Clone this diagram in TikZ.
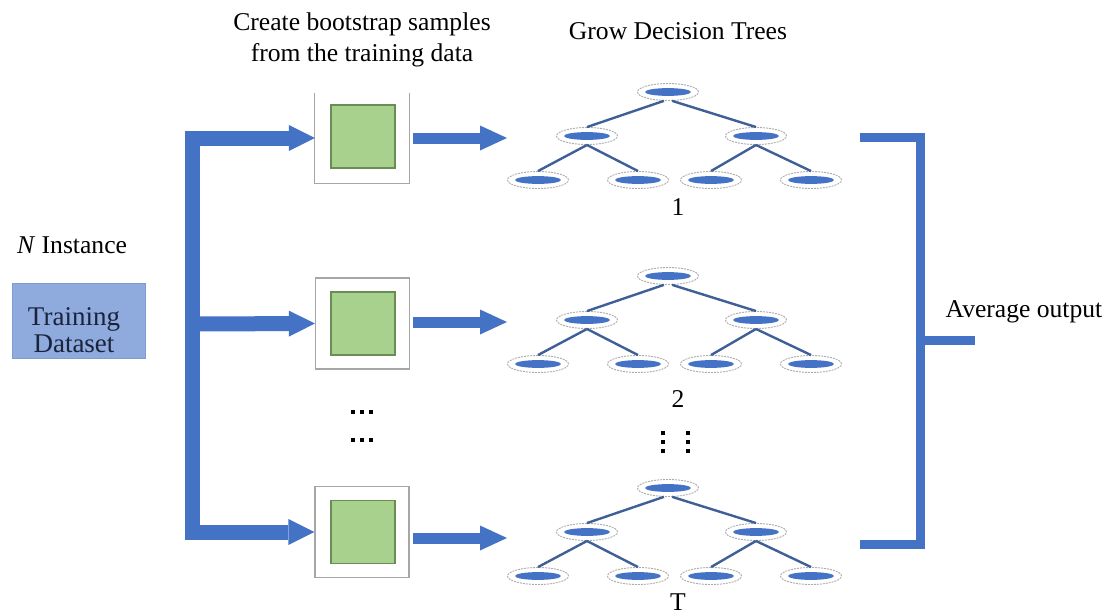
\documentclass[tikz,border=0pt]{standalone}
\usepackage{fontspec}
\setmainfont{Liberation Serif}
\usetikzlibrary{shapes.geometric,arrows.meta}
\definecolor{barblue}{HTML}{4472C4}
\definecolor{edgeblue}{RGB}{62,96,150}
\definecolor{greenfill}{HTML}{A9D18E}
\definecolor{greenline}{HTML}{6A8C55}
\definecolor{boxgray}{HTML}{A6A6A6}
\definecolor{dsfill}{HTML}{8FAADC}
\definecolor{dsline}{HTML}{7F9BCF}
\definecolor{dstext}{RGB}{25,35,60}
\tikzset{
  lbl/.style={font=\fontsize{25.6}{31}\selectfont, inner sep=0pt, anchor=base},
  dslbl/.style={font=\fontsize{27}{28}\selectfont, text=dstext, inner sep=0pt, anchor=base},
  outerbox/.style={draw=boxgray, line width=1.2pt, fill=white, minimum width=94pt, minimum height=91pt, inner sep=0pt},
  boxline/.style={draw=boxgray, line width=1.2pt},
  sample/.style={draw=greenline, fill=greenfill, line width=1.3pt, minimum width=64pt, minimum height=63pt, inner sep=0pt},
  dsbox/.style={draw=dsline, fill=dsfill, line width=1pt, minimum width=133pt, minimum height=75pt, inner sep=0pt},
  tnode/.style={ellipse, draw=gray!65, dash pattern=on 2pt off 1pt, line width=0.9pt, fill=white, minimum width=61pt, minimum height=17pt, inner sep=0pt},
  tedge/.style={draw=edgeblue, line width=2.4pt},
  trunk/.style={draw=barblue, line width=15pt},
  feed/.style={draw=barblue, line width=15pt, -{Triangle[length=26pt,width=26pt,line width=0pt]}},
  outarrow/.style={draw=barblue, line width=11pt, -{Triangle[length=27pt,width=25pt,line width=0pt]}},
  bracketline/.style={draw=barblue, line width=9pt, line join=miter},
  dotsq/.style={fill=black}
}
\newcommand{\dtree}[4]{%
  \foreach \n/\xx/\dy in {r/668/0, a/587/44, b/756/44, c/538/88, d/638/88, e/711/88, f/811/88} {
    \node[tnode] (#1\n) at (\xx,#2+\dy) {};
    \fill[barblue] (#1\n) ellipse [x radius=23pt, y radius=3.9pt];
  }
  \draw[tedge] (#1r.-115) -- (#1a.north);
  \draw[tedge] (#1r.-65) -- (#1b.north);
  \draw[tedge] (#1a.south) -- (#1c.north);
  \draw[tedge] (#1a.south) -- (#1d.north);
  \draw[tedge] (#1b.south) -- (#1e.north);
  \draw[tedge] (#1b.south) -- (#1f.north);
  \node[lbl] (#1lab) at (678,#4) {#3};
}
\begin{document}
\begin{tikzpicture}[x=1pt, y=-1pt]
\useasboundingbox (0,0) rectangle (1109,616);
\fill[white] (0,0) rectangle (1109,616);

% headers
\node[lbl] (h1a) at (362,30) {Create bootstrap samples};
\node[lbl] (h1b) at (362,61) {from the training data};
\node[lbl] (h2) at (678,39) {Grow Decision Trees};

% training dataset
\node[lbl] (ninst) at (72,253) {\textit{N} Instance};
\node[dsbox] (train) at (78.5,320.5) {};
\node[dslbl] (tr1) at (74,325) {Training};
\node[dslbl] (tr2) at (74,352) {Dataset};

% bootstrap sample boxes
\node[minimum width=94pt, minimum height=90pt, inner sep=0pt] (box1) at (362,138) {};
\draw[boxline] (box1.north west) -- (box1.south west) -- (box1.south east) -- (box1.north east);
\node[sample] (g1) at (363,136.5) {};
\node[outerbox] (box2) at (362.5,323.5) {};
\node[sample] (g2) at (363,323.5) {};
\node[outerbox] (box3) at (362,532) {};
\node[sample] (g3) at (363,532) {};

% trunk and feeding arrows
\coordinate (ttop) at (192.5,138);
\coordinate (tmid) at (192.5,324);
\coordinate (tbot) at (192.5,532);
\coordinate (trunktop) at (192.5,130.5);
\coordinate (trunkbot) at (192.5,539.5);
\draw[trunk] (trunktop) -- (trunkbot);
\draw[feed] (ttop) -- (box1.west);
\draw[feed] (tmid) -- (box2.west);
\draw[feed] (tbot) -- (box3.west);

% arrows to trees
\coordinate (s1) at (413,138);  \coordinate (o1) at (507,138);
\coordinate (s2) at (413,322);  \coordinate (o2) at (507,322);
\coordinate (s3) at (413,538);  \coordinate (o3) at (507,538);
\draw[outarrow] (s1) -- (o1);
\draw[outarrow] (s2) -- (o2);
\draw[outarrow] (s3) -- (o3);

% trees
\dtree{ta}{92}{1}{215}
\dtree{tb}{276}{2}{407}
\dtree{tc}{488}{T}{610}

% dots
\foreach \yy in {412,440} {
  \foreach \xx in {353,362,371} {
    \fill[dotsq] (\xx-1.8,\yy-1.8) rectangle (\xx+1.8,\yy+1.8);
  }
}
\foreach \xx in {663,688} {
  \foreach \yy in {433,442,451} {
    \fill[dotsq] (\xx-1.8,\yy-1.8) rectangle (\xx+1.8,\yy+1.8);
  }
}

% output bracket
\coordinate (bt) at (860,137);
\coordinate (bb) at (860,544);
\coordinate (bm) at (920,340);
\coordinate (avgend) at (975,340);
\draw[bracketline] (bt) -- (920,137) -- (920,544) -- (bb);
\draw[bracketline] (bm) -- (avgend);
\node[lbl] (avg) at (1024,317) {Average output};
\end{tikzpicture}
\end{document}
